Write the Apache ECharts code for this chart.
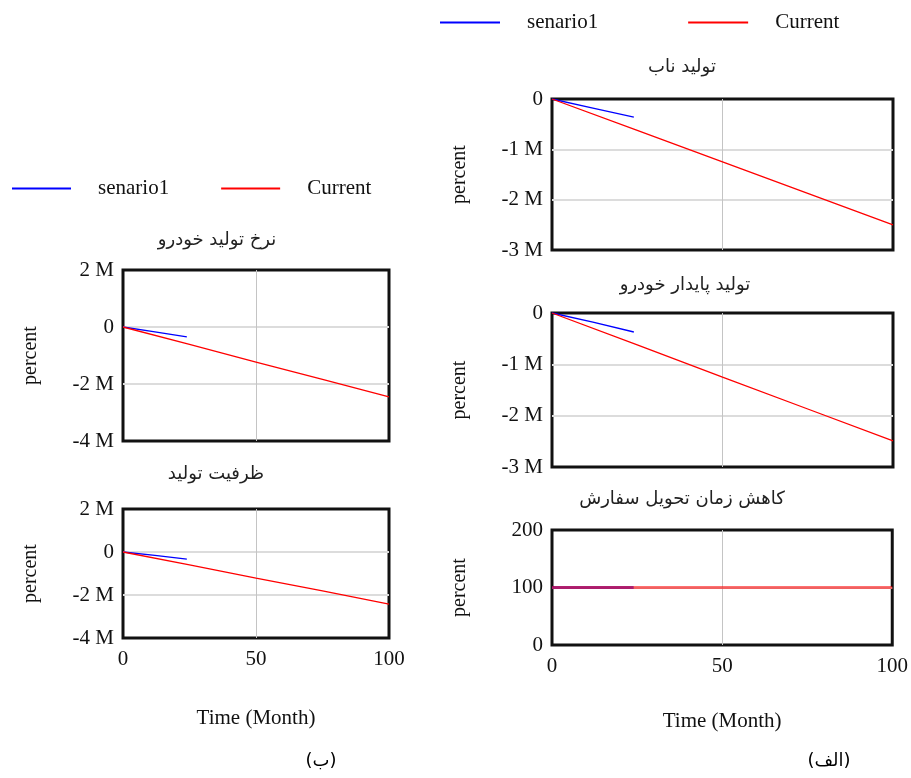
<!DOCTYPE html>
<html><head><meta charset="utf-8">
<script src="https://cdn.jsdelivr.net/npm/echarts@6/dist/echarts.min.js"></script>
<style>html,body{margin:0;padding:0;background:#fff}#c{width:911px;height:778px}</style>
</head><body><div id="c"></div>
<script>
// ---- data ----
const timeCurrent = [0, 25, 50, 75, 100];
const timeScenario = [0, 12, 24];
// (ب) left panel
const rateCurrent = [0, -0.61e6, -1.23e6, -1.84e6, -2.45e6];
const rateScenario = [0, -0.17e6, -0.35e6];
const capCurrent = [0, -0.6e6, -1.21e6, -1.81e6, -2.42e6];
const capScenario = [0, -0.16e6, -0.33e6];
// (الف) right panel
const leanCurrent = [0, -0.625e6, -1.25e6, -1.875e6, -2.5e6];
const leanScenario = [0, -0.18e6, -0.36e6];
const sustCurrent = [0, -0.62e6, -1.25e6, -1.87e6, -2.49e6];
const sustScenario = [0, -0.18e6, -0.37e6];
const deliveryCurrent = [100, 100, 100, 100, 100];
const deliveryScenario = [100, 100, 100];

const titles = ['نرخ تولید خودرو', 'ظرفیت تولید', 'تولید ناب', 'تولید پایدار خودرو', 'کاهش زمان تحویل سفارش'];
const legendNames = ['senario1', 'Current'];

const pairs = (xs, ys) => xs.map((x, i) => [x, ys[i]]);
const serif = 'Liberation Serif';
const mFmt = v => v === 0 ? '0' : (v / 1e6) + ' M';

const grids = [
  {left: 123, top: 270, width: 266, height: 171},
  {left: 123, top: 509, width: 266, height: 129},
  {left: 552, top: 99, width: 341, height: 151},
  {left: 552, top: 313, width: 341, height: 154},
  {left: 552, top: 530, width: 341, height: 115}
];
const yCfg = [
  {min: -4e6, max: 2e6, interval: 2e6, fmt: mFmt},
  {min: -4e6, max: 2e6, interval: 2e6, fmt: mFmt},
  {min: -3e6, max: 0, interval: 1e6, fmt: mFmt},
  {min: -3e6, max: 0, interval: 1e6, fmt: mFmt},
  {min: 0, max: 200, interval: 100, fmt: v => String(v)}
];
const showX = [false, true, false, false, true];
const nameGapX = [70, 70, 70, 70, 66];
const dataSets = [
  [rateScenario, rateCurrent],
  [capScenario, capCurrent],
  [leanScenario, leanCurrent],
  [sustScenario, sustCurrent],
  [deliveryScenario, deliveryCurrent]
];
const titlePos = [[212, 226], [211, 460], [677, 53], [680, 271], [677, 485]];

const option = {
  animation: false,
  backgroundColor: '#fff',
  title: titles.map((t, i) => ({
    text: t, left: titlePos[i][0], top: titlePos[i][1], textAlign: 'center',
    textStyle: {fontFamily: 'DejaVu Sans', fontSize: 18, fontWeight: 'normal', color: '#222'}
  })).concat([
    {text: '(ب)', left: 316, top: 747, textAlign: 'center', textStyle: {fontFamily: 'DejaVu Sans', fontSize: 18, fontWeight: 'normal', color: '#000'}},
    {text: '(الف)', left: 824, top: 747, textAlign: 'center', textStyle: {fontFamily: 'DejaVu Sans', fontSize: 18, fontWeight: 'normal', color: '#000'}}
  ]),
  legend: [
    {left: 7, top: 173, data: legendNames, icon: 'rect', itemWidth: 59, itemHeight: 2, itemGap: 52,
     textStyle: {fontFamily: serif, fontSize: 21, color: '#111', padding: [0, 0, 0, 22]}},
    {left: 435, top: 7, data: legendNames, icon: 'rect', itemWidth: 60, itemHeight: 2, itemGap: 90,
     textStyle: {fontFamily: serif, fontSize: 21, color: '#111', padding: [0, 0, 0, 22]}}
  ],
  grid: grids.map(g => Object.assign({show: true, borderColor: '#111', borderWidth: 3, backgroundColor: 'transparent'}, g)),
  xAxis: grids.map((g, i) => ({
    type: 'value', gridIndex: i, min: 0, max: 100, interval: 50,
    axisLine: {show: false}, axisTick: {show: false},
    axisLabel: {show: showX[i], fontFamily: serif, fontSize: 21, color: '#111', margin: 11},
    splitLine: {show: true, showMinLine: false, showMaxLine: false, lineStyle: {color: '#c4c4c4', width: 1}},
    name: showX[i] ? 'Time (Month)' : '', nameLocation: 'middle', nameGap: nameGapX[i],
    nameTextStyle: {fontFamily: serif, fontSize: 21, color: '#111'}
  })),
  yAxis: grids.map((g, i) => ({
    type: 'value', gridIndex: i, min: yCfg[i].min, max: yCfg[i].max, interval: yCfg[i].interval,
    axisLine: {show: false}, axisTick: {show: false},
    axisLabel: {fontFamily: serif, fontSize: 21, color: '#111', margin: 9, formatter: yCfg[i].fmt},
    splitLine: {show: true, showMinLine: false, showMaxLine: false, lineStyle: {color: '#dcdcdc', width: 2}},
    name: 'percent', nameLocation: 'middle', nameRotate: 90, nameGap: 82,
    nameTextStyle: {fontFamily: serif, fontSize: 20, color: '#111'}
  })),
  series: []
};
dataSets.forEach((ds, i) => {
  const last = i === 4;
  option.series.push({
    name: 'senario1', type: 'line', xAxisIndex: i, yAxisIndex: i, symbol: 'none',
    data: pairs(timeScenario, ds[0]),
    lineStyle: {color: '#0000ff', width: last ? 3 : 1.3, opacity: last ? 0.7 : 1}, itemStyle: {color: '#0000ff'}
  });
  option.series.push({
    name: 'Current', type: 'line', xAxisIndex: i, yAxisIndex: i, symbol: 'none',
    data: pairs(timeCurrent, ds[1]),
    lineStyle: {color: '#ff0000', width: last ? 3 : 1.3, opacity: last ? 0.56 : 1}, itemStyle: {color: '#ff0000'}
  });
});
const chart = echarts.init(document.getElementById('c'), null, {renderer: 'canvas'});
chart.setOption(option);
</script></body></html>
